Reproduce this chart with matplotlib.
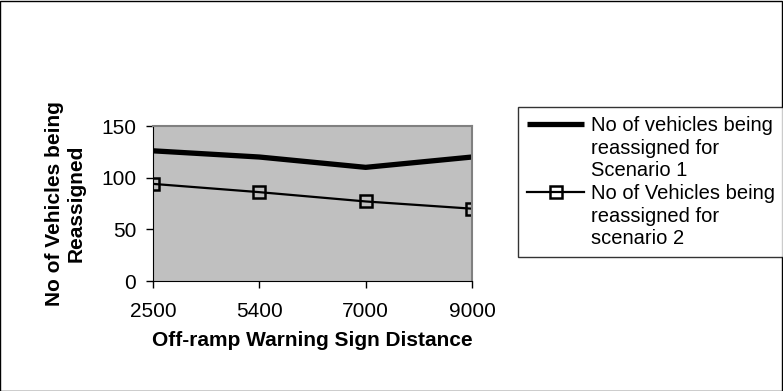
import matplotlib
matplotlib.use("Agg")
import matplotlib.pyplot as plt
from matplotlib.patches import Rectangle
from matplotlib.lines import Line2D

categories = ["2500", "5400", "7000", "9000"]
scenario1 = [126, 120, 110, 120]
scenario2 = [94, 86, 77, 70]
label1_lines = ["No of vehicles being", "reassigned for", "Scenario 1"]
label2_lines = ["No of Vehicles being", "reassigned for", "scenario 2"]

plt.rcParams['font.family'] = ['Liberation Sans', 'DejaVu Sans']

fig = plt.figure(figsize=(7.83, 3.91), dpi=100)
ax = fig.add_axes([0.1954, 0.2813, 0.4074, 0.3964])
ax.set_facecolor("#C0C0C0")
x = list(range(len(categories)))
l1, = ax.plot(x, scenario1, color="black", lw=3.8, solid_capstyle="butt")
l2, = ax.plot(x, scenario2, color="black", lw=1.6, marker="s", ms=9, mfc="none",
              mec="black", mew=1.8)
ax.set_xlim(0, len(categories) - 1)
ax.set_ylim(0, 150)
ax.set_yticks([0, 50, 100, 150])
ax.set_xticks(x)
ax.set_xticklabels(categories)
ax.tick_params(axis="both", labelsize=15, length=5, width=1, direction="out", colors="black")
ax.tick_params(axis="x", pad=10)
ax.tick_params(axis="y", pad=7)
for s in ["top", "right"]:
    ax.spines[s].set_color("#808080")
    ax.spines[s].set_linewidth(1.5)
for s in ["left", "bottom"]:
    ax.spines[s].set_color("black")
ax.set_xlabel("Off-ramp Warning Sign Distance", fontsize=15, fontweight="bold", labelpad=7)
ax.set_ylabel("No of Vehicles being\nReassigned", fontsize=15, fontweight="bold", labelpad=11,
              linespacing=1.2)

blank = Line2D([], [], color="none")
handles = [l1, blank, blank, l2, blank, blank]
labels = label1_lines + label2_lines
leg = fig.legend(handles, labels, loc="upper left", bbox_to_anchor=(0.6616, 0.7263),
                 fontsize=14.5, frameon=True, fancybox=False, edgecolor="black",
                 handlelength=2.85, borderpad=0.45, labelspacing=0.18, handletextpad=0.3,
                 borderaxespad=0)
leg.get_frame().set_linewidth(1.0)

fig.patches.append(Rectangle((0.0005, 0.001), 0.998, 0.997, transform=fig.transFigure,
                             fill=False, edgecolor="black", lw=1))
fig.savefig("out.png", dpi=100)
